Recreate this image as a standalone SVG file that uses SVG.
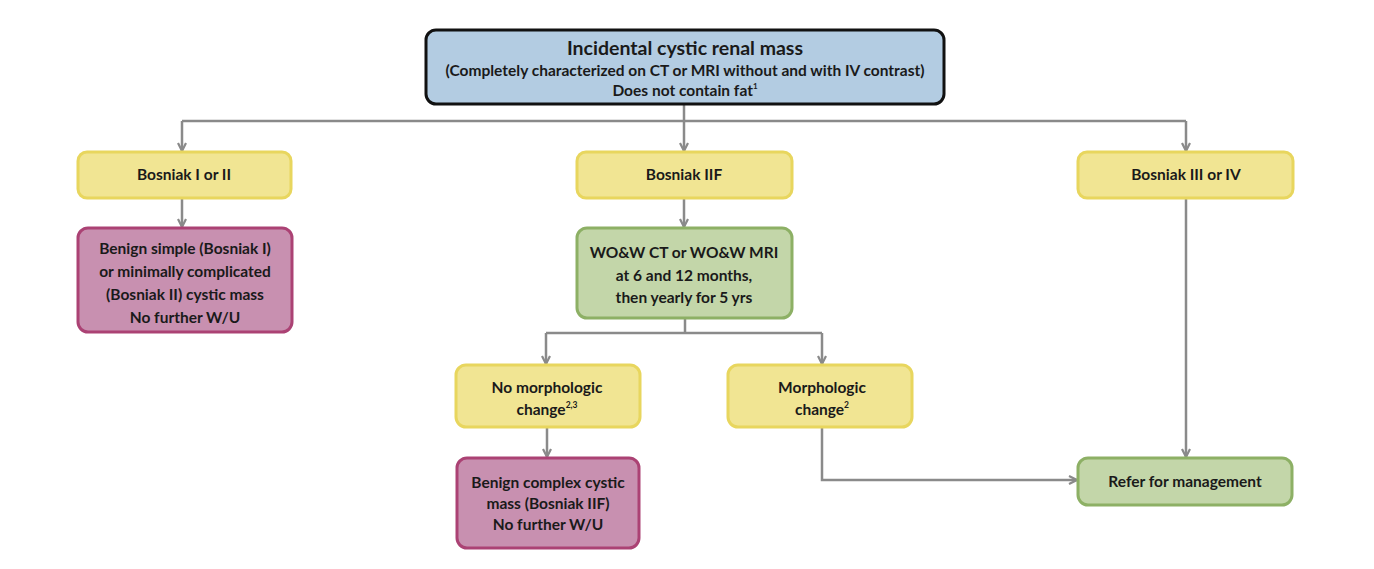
<svg xmlns="http://www.w3.org/2000/svg" width="1374" height="569" viewBox="0 0 1374 569">
<defs>
<marker id="arr" viewBox="0 0 10 10" refX="9" refY="5" markerWidth="4" markerHeight="4" orient="auto" markerUnits="strokeWidth">
<path d="M1,1 L9,5 L1,9" fill="none" stroke="#8a8a8a" stroke-width="2.2"/>
</marker>
<style>
text{font-family:Lato,"Open Sans","Liberation Sans",sans-serif;font-weight:bold;fill:#1a1a1a;text-anchor:middle}
.t{font-size:15.5px}
.h{font-size:19.5px}
.yel{fill:#f1e593;stroke:#e8d65e;stroke-width:3}
.pink{fill:#c890b0;stroke:#ab4274;stroke-width:3}
.grn{fill:#c3d6a9;stroke:#8db065;stroke-width:3}
.blue{fill:#b3cce2;stroke:#111;stroke-width:3}
.c{fill:none;stroke:#8a8a8a;stroke-width:2.5}
</style>
</defs>
<rect width="1374" height="569" fill="#fff"/>
<g id="connectors">
<path class="c" d="M684,104 V121"/>
<path class="c" d="M182,121 H1186"/>
<path class="c" d="M182,121 V151" marker-end="url(#arr)"/>
<path class="c" d="M684,121 V151" marker-end="url(#arr)"/>
<path class="c" d="M1186,121 V151" marker-end="url(#arr)"/>
<path class="c" d="M182,198 V227" marker-end="url(#arr)"/>
<path class="c" d="M684,198 V227" marker-end="url(#arr)"/>
<path class="c" d="M685,318 V333"/>
<path class="c" d="M546,333 H822"/>
<path class="c" d="M546,333 V364" marker-end="url(#arr)"/>
<path class="c" d="M822,333 V364" marker-end="url(#arr)"/>
<path class="c" d="M547,427 V457" marker-end="url(#arr)"/>
<path class="c" d="M822,427 V480 H1077" marker-end="url(#arr)"/>
<path class="c" d="M1186,198 V457" marker-end="url(#arr)"/>
</g>
<g id="root">
<rect class="blue" x="426" y="30" width="518" height="74" rx="10"/>
<text class="h" x="685" y="55">Incidental cystic renal mass</text>
<text class="t" x="685" y="76">(Completely characterized on CT or MRI without and with IV contrast)</text>
<text class="t" x="685" y="96">Does not contain fat<tspan font-size="8" dy="-7">1</tspan></text>
</g>
<g id="b12">
<rect class="yel" x="78" y="152" width="213" height="46" rx="9"/>
<text class="t" x="184" y="180">Bosniak I or II</text>
</g>
<g id="b2f">
<rect class="yel" x="577" y="152" width="215" height="46" rx="9"/>
<text class="t" x="684" y="180">Bosniak IIF</text>
</g>
<g id="b34">
<rect class="yel" x="1078" y="152" width="215" height="46" rx="9"/>
<text class="t" x="1186" y="180">Bosniak III or IV</text>
</g>
<g id="benign1">
<rect class="pink" x="78" y="228" width="214" height="104" rx="10"/>
<text class="t" x="185" y="254">Benign simple (Bosniak I)</text>
<text class="t" x="185" y="277">or minimally complicated</text>
<text class="t" x="185" y="300">(Bosniak II) cystic mass</text>
<text class="t" x="185" y="323">No further W/U</text>
</g>
<g id="wow">
<rect class="grn" x="577" y="228" width="215" height="90" rx="10"/>
<text class="t" x="684" y="258">WO&amp;W CT or WO&amp;W MRI</text>
<text class="t" x="684" y="281">at 6 and 12 months,</text>
<text class="t" x="684" y="303">then yearly for 5 yrs</text>
</g>
<g id="nomorph">
<rect class="yel" x="456" y="365" width="184" height="62" rx="10"/>
<text class="t" x="547" y="393">No morphologic</text>
<text class="t" x="547" y="415">change<tspan font-size="8.5" dy="-7">2,3</tspan></text>
</g>
<g id="morph">
<rect class="yel" x="728" y="365" width="184" height="62" rx="10"/>
<text class="t" x="822" y="393">Morphologic</text>
<text class="t" x="822" y="415">change<tspan font-size="8.5" dy="-7">2</tspan></text>
</g>
<g id="benign2">
<rect class="pink" x="457" y="458" width="182" height="90" rx="10"/>
<text class="t" x="548" y="488">Benign complex cystic</text>
<text class="t" x="548" y="509">mass (Bosniak IIF)</text>
<text class="t" x="548" y="530">No further W/U</text>
</g>
<g id="refer">
<rect class="grn" x="1078" y="458" width="214" height="47" rx="10"/>
<text class="t" x="1185" y="487">Refer for management</text>
</g>
</svg>
